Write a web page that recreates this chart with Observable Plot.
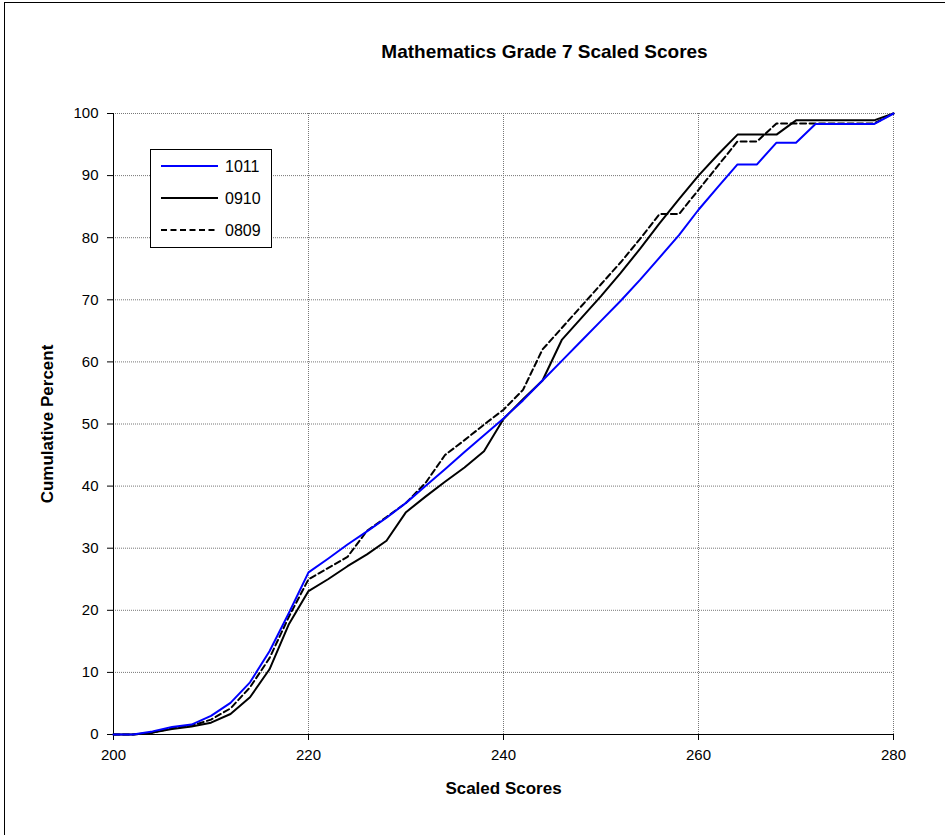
<!DOCTYPE html>
<html>
<head>
<meta charset="utf-8">
<script src="https://cdn.jsdelivr.net/npm/d3@7"></script>
<script src="https://cdn.jsdelivr.net/npm/@observablehq/plot@0.6"></script>
<style>
  html, body { margin: 0; padding: 0; background: #fff; }
  #wrap { position: relative; width: 945px; height: 835px; overflow: hidden; }
  #frame { position: absolute; left: 4px; top: 2px; width: 1200px; height: 1200px; border-left: 1px solid #000; border-top: 1px solid #000; }
  #chart { position: absolute; left: 0; top: 0; }
  #legend { position: absolute; left: 150px; top: 149px; width: 120px; height: 97px; border: 1px solid #000; background: #fff; }
</style>
</head>
<body>
<div id="wrap">
  <div id="frame"></div>
  <div id="chart"></div>
  <div id="legend"></div>
</div>
<script>
const scores = [200,202,204,206,208,210,212,214,216,218,220,222,224,226,228,230,232,234,236,238,240,242,244,246,248,250,252,254,256,258,260,262,264,266,268,270,272,274,276,278,280];
const s1011 = [0,0,0.5,1.2,1.6,3.0,5.1,8.4,13.4,19.6,26.1,28.3,30.6,32.7,34.9,37.3,40.0,42.7,45.5,48.2,50.9,53.8,57.0,60.2,63.4,66.6,69.8,73.2,76.8,80.4,84.5,88.2,91.8,91.8,95.3,95.3,98.3,98.3,98.3,98.3,100];
const s0910 = [0,0,0.3,0.9,1.3,1.9,3.3,6.0,10.5,17.8,23.1,25.0,27.1,29.0,31.2,35.8,38.3,40.7,43.0,45.6,50.8,54.0,57.0,63.6,67.1,70.6,74.3,78.2,82.3,86.2,90.0,93.4,96.6,96.6,96.6,98.9,98.9,98.9,98.9,98.9,100];
const s0809 = [0,0,0.3,1.0,1.4,2.4,4.2,7.6,12.3,19.0,25.0,26.8,28.6,32.8,35.0,37.3,40.5,45.0,47.4,49.9,52.3,55.5,62.0,65.5,69.0,72.5,76.0,79.8,83.8,83.8,87.7,91.6,95.5,95.5,98.4,98.4,98.4,98.4,98.4,98.4,100];
const seriesNames = ["1011", "0910", "0809"];
const xTicks = [200,220,240,260,280];
const yTicks = [0,10,20,30,40,50,60,70,80,90,100];
const title = "Mathematics Grade 7 Scaled Scores";
const xLabel = "Scaled Scores";
const yLabel = "Cumulative Percent";

const mk = (vals) => scores.map((x, i) => ({x, y: vals[i]}));
const d1011 = mk(s1011), d0910 = mk(s0910), d0809 = mk(s0809);

const font = "'Liberation Sans', Arial, sans-serif";
const dash = "6,3.5";
const chart = Plot.plot({
  width: 945, height: 835,
  marginLeft: 113, marginRight: 52, marginTop: 113, marginBottom: 101,
  x: {domain: [200, 280]},
  y: {domain: [0, 100]},
  style: {fontFamily: font, fontSize: "15px", background: "transparent", color: "#000"},
  marks: [
    Plot.ruleX(xTicks.slice(1), {stroke: "#777", strokeDasharray: "1,1", strokeOpacity: 1}),
    Plot.ruleY(yTicks.slice(1), {stroke: "#777", strokeDasharray: "1,1", strokeOpacity: 1}),
    Plot.axisY({ticks: yTicks, tickSize: 6, tickPadding: 9, label: null, fontSize: 15, stroke: "#000"}),
    Plot.axisX({ticks: xTicks, tickSize: 6, tickPadding: 9, label: null, fontSize: 15, stroke: "#000"}),
    Plot.ruleX([200], {stroke: "#000", strokeWidth: 1}),
    Plot.ruleY([0], {stroke: "#000", strokeWidth: 1}),
    Plot.line(d0809, {x: "x", y: "y", stroke: "#000", strokeWidth: 2, strokeDasharray: dash}),
    Plot.line(d0910, {x: "x", y: "y", stroke: "#000", strokeWidth: 2}),
    Plot.line(d1011, {x: "x", y: "y", stroke: "#0000ff", strokeWidth: 2}),
    Plot.text([title], {text: d => d, frameAnchor: "top", textAnchor: "middle", dx: 41, dy: -69, fontWeight: "bold", fontSize: 19}),
    Plot.text([xLabel], {text: d => d, frameAnchor: "bottom", textAnchor: "middle", dy: 59, fontWeight: "bold", fontSize: 17}),
    Plot.text([yLabel], {text: d => d, frameAnchor: "left", textAnchor: "middle", dx: -66, rotate: -90, fontWeight: "bold", fontSize: 17})
  ]
});
document.getElementById("chart").appendChild(chart);

// Legend
const legendStyles = [
  {stroke: "#0000ff", dash: null},
  {stroke: "#000", dash: null},
  {stroke: "#000", dash: dash}
];
const lsvg = d3.select("#legend").append("svg").attr("width", 120).attr("height", 97);
seriesNames.forEach((name, i) => {
  const y = 16 + i * 32;
  const ln = lsvg.append("line").attr("x1", 10).attr("x2", 67).attr("y1", y).attr("y2", y)
    .attr("stroke", legendStyles[i].stroke).attr("stroke-width", 2);
  if (legendStyles[i].dash) ln.attr("stroke-dasharray", legendStyles[i].dash);
  lsvg.append("text").attr("x", 74).attr("y", y).attr("dy", "0.35em")
    .style("font-family", font).style("font-size", "16px").text(name);
});
</script>
</body>
</html>
